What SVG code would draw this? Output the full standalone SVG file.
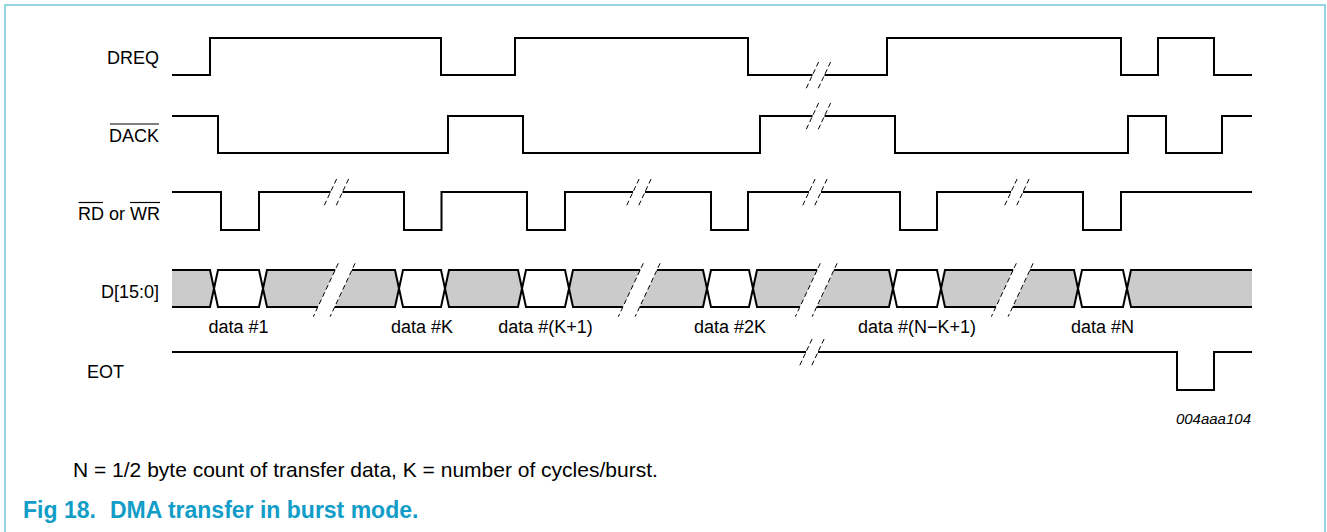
<svg xmlns="http://www.w3.org/2000/svg" xmlns:xlink="http://www.w3.org/1999/xlink" width="1327" height="532" viewBox="0 0 1327 532">
<style>
.sig{fill:none;stroke:#000;stroke-width:2;stroke-linejoin:miter;stroke-linecap:butt}
.gf{fill:#cbcbcb;stroke:none}
.wf{fill:#fff;stroke:#000;stroke-width:2}
.gh{fill:#cbcbcb;stroke:#000;stroke-width:2}
.dash{fill:none;stroke:#000;stroke-width:1;stroke-dasharray:5 3}
.ov{stroke:#000;stroke-width:1.2}
.lbl{font-family:"Liberation Sans",Arial,sans-serif;font-size:18px;fill:#000}
.lblr{text-anchor:end}
.dl{text-anchor:middle}
.cap{font-family:"Liberation Sans",Arial,sans-serif;font-size:21px;fill:#000}
.fig{font-family:"Liberation Sans",Arial,sans-serif;font-size:23px;font-weight:bold;fill:#119dc8}
.code{font-family:"Liberation Sans",Arial,sans-serif;font-size:15px;font-style:italic;fill:#000;text-anchor:end}
</style>
<defs>
<g id="brk"><line class="dash" x1="0.1" y1="-13" x2="-13.5" y2="16"/><line class="dash" x1="12.1" y1="-13" x2="-1.5" y2="16"/></g>
<g id="bbrk"><line class="dash" x1="3.3" y1="-25.2" x2="-21.7" y2="28.2"/><line class="dash" x1="20.1" y1="-25.2" x2="-4.9" y2="28.2"/></g>
</defs>
<path id="frame" d="M5,532 V5 H1325 V532" fill="none" stroke="#74c6d9" stroke-width="1.5"/>

<g id="dreq">
<text class="lbl lblr" x="159" y="64">DREQ</text>
<path class="sig" d="M172,75 H210 V38 H441 V75 H515 V38 H748 V75 H812.5 M824.5,75 H887 V38 H1121 V75 H1158 V38 H1214 V75 H1252"/>
<use xlink:href="#brk" x="818.5" y="75"/>
</g>

<g id="dack">
<text class="lbl lblr" x="159" y="142">DACK</text>
<line class="ov" x1="110" y1="124" x2="159" y2="124"/>
<path class="sig" d="M172,116 H218 V153 H448 V116 H523 V153 H760 V116 H812.5 M824.5,116 H895 V153 H1128 V116 H1166 V153 H1222 V116 H1252"/>
<use xlink:href="#brk" x="818.5" y="116"/>
</g>

<g id="rdwr">
<text class="lbl lblr" x="160" y="220">RD or WR</text>
<line class="ov" x1="78.5" y1="202.5" x2="103" y2="202.5"/>
<line class="ov" x1="130" y1="202.5" x2="160" y2="202.5"/>
<path class="sig" d="M172,192 H221 V230 H259 V192 H330.5 M342.5,192 H404 V230 H441.5 V192 H527 V230 H565 V192 H633 M645,192 H711 V230 H748 V192 H809 M821,192 H900 V230 H937 V192 H1011 M1023,192 H1083 V230 H1121 V192 H1252"/>
<use xlink:href="#brk" x="336.5" y="192"/>
<use xlink:href="#brk" x="639" y="192"/>
<use xlink:href="#brk" x="815" y="192"/>
<use xlink:href="#brk" x="1017" y="192"/>
</g>

<g id="data">
<text class="lbl lblr" x="159" y="298">D[15:0]</text>
<path class="gf" d="M172,270 H210 L214,288.5 L210,307 H172 Z"/>
<path class="gf" d="M263,288.5 L267,270 H335.2 L317.9,307 H267 Z"/>
<path class="gf" d="M352,270 H395 L399,288.5 L395,307 H334.7 Z"/>
<path class="gf" d="M569,288.5 L573,270 H640.2 L622.9,307 H573 Z"/>
<path class="gf" d="M657,270 H703 L707,288.5 L703,307 H639.7 Z"/>
<path class="gf" d="M753,288.5 L757,270 H817.2 L799.9,307 H757 Z"/>
<path class="gf" d="M834,270 H889 L893,288.5 L889,307 H816.7 Z"/>
<path class="gf" d="M941,288.5 L945,270 H1013.2 L995.9,307 H945 Z"/>
<path class="gf" d="M1030,270 H1074 L1078,288.5 L1074,307 H1012.7 Z"/>
<path class="gf" d="M1127,288.5 L1131,270 H1252 V307 H1131 Z"/>
<path class="sig" d="M172,270 H210 L214,288.5 L210,307 H172 M335.2,270 H267 L263,288.5 L267,307 H317.9 M352,270 H395 L399,288.5 L395,307 H334.7 M640.2,270 H573 L569,288.5 L573,307 H622.9 M657,270 H703 L707,288.5 L703,307 H639.7 M817.2,270 H757 L753,288.5 L757,307 H799.9 M834,270 H889 L893,288.5 L889,307 H816.7 M1013.2,270 H945 L941,288.5 L945,307 H995.9 M1030,270 H1074 L1078,288.5 L1074,307 H1012.7 M1252,270 H1131 L1127,288.5 L1131,307 H1252"/>
<path class="wf" d="M214,288.5 L218,270 H259 L263,288.5 L259,307 H218 Z"/>
<path class="wf" d="M399,288.5 L403,270 H441 L445,288.5 L441,307 H403 Z"/>
<path class="gh" d="M445,288.5 L449,270 H518 L522,288.5 L518,307 H449 Z"/>
<path class="wf" d="M522,288.5 L526,270 H565 L569,288.5 L565,307 H526 Z"/>
<path class="wf" d="M707,288.5 L711,270 H749 L753,288.5 L749,307 H711 Z"/>
<path class="wf" d="M893,288.5 L897,270 H937 L941,288.5 L937,307 H897 Z"/>
<path class="wf" d="M1078,288.5 L1082,270 H1123 L1127,288.5 L1123,307 H1082 Z"/>
<use xlink:href="#bbrk" x="335" y="288.5"/>
<use xlink:href="#bbrk" x="640" y="288.5"/>
<use xlink:href="#bbrk" x="817" y="288.5"/>
<use xlink:href="#bbrk" x="1013" y="288.5"/>
<text class="lbl dl" x="238.5" y="333">data #1</text>
<text class="lbl dl" x="422" y="333">data #K</text>
<text class="lbl dl" x="545.5" y="333">data #(K+1)</text>
<text class="lbl dl" x="730" y="333">data #2K</text>
<text class="lbl dl" x="917" y="333">data #(N−K+1)</text>
<text class="lbl dl" x="1102.5" y="333">data #N</text>
</g>

<g id="eot">
<text class="lbl" x="87" y="378">EOT</text>
<path class="sig" d="M172,352 H806 M818,352 H1177 V390 H1214 V352 H1252"/>
<use xlink:href="#brk" x="812" y="352"/>
</g>

<text class="code" x="1251" y="424">004aaa104</text>
<text class="cap" x="73" y="477">N = 1/2 byte count of transfer data, K = number of cycles/burst.</text>
<text class="fig" x="23" y="518">Fig 18.<tspan x="110">DMA transfer in burst mode.</tspan></text>
</svg>
